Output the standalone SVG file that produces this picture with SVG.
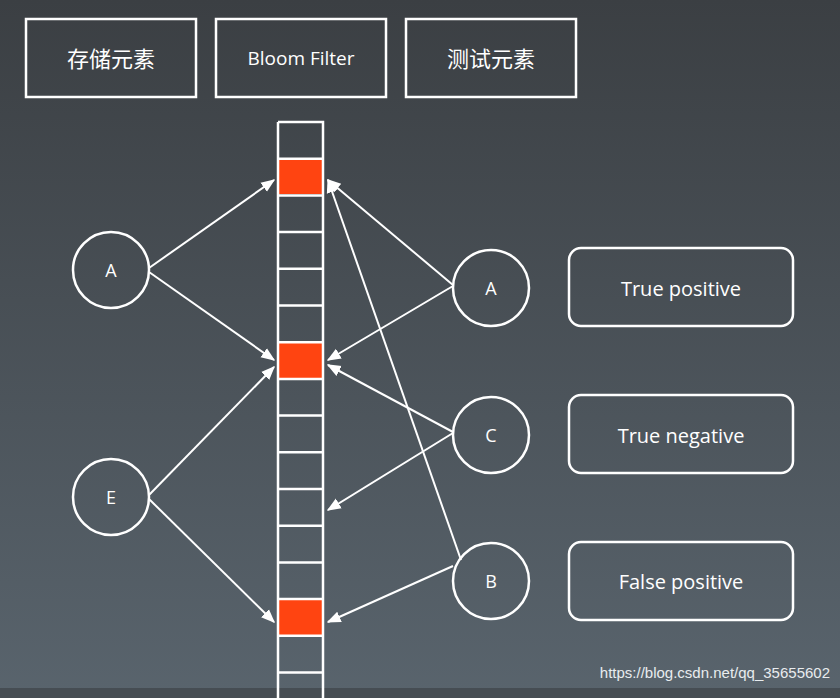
<svg xmlns="http://www.w3.org/2000/svg" width="840" height="698" viewBox="0 0 840 698">
<defs>
<linearGradient id="bg" x1="0" y1="0" x2="0" y2="1"><stop offset="0" stop-color="#3b3f43"/><stop offset="1" stop-color="#59646d"/></linearGradient>
<marker id="ah" viewBox="0 0 10 10" refX="9" refY="5" markerWidth="7" markerHeight="7" orient="auto"><path d="M0,1 L10,5 L0,9 Z" fill="#fff"/></marker>
<style>
.b{fill:none;stroke:#fff;stroke-width:2.5}
.t{fill:#fff;font-family:"Open Sans","Noto Sans CJK SC",sans-serif;text-anchor:middle;dominant-baseline:central}
.c{stroke:#fff;stroke-width:2;marker-end:url(#ah)}
.cell{fill:none;stroke:#fff;stroke-width:2.5}
.red{fill:#ff4411}
</style>
</defs>
<rect width="840" height="698" fill="url(#bg)"/>
<rect y="688" width="840" height="10" fill="#464d53"/>
<g id="h1"><rect class="b" x="26" y="19" width="170" height="78"/><text class="t" x="111" y="58" font-size="22">存储元素</text></g>
<g id="h2"><rect class="b" x="216" y="19" width="170" height="78"/><text class="t" x="301" y="58" font-size="19">Bloom Filter</text></g>
<g id="h3"><rect class="b" x="406" y="19" width="170" height="78"/><text class="t" x="491" y="58" font-size="22">测试元素</text></g>
<g id="filter">
<rect class="red" x="278" y="159" width="45" height="35"/>
<rect class="red" x="278" y="343" width="45" height="35"/>
<rect class="red" x="278" y="600" width="45" height="35"/>
<path class="cell" d="M278,122 H323 V700 M278,122 V700 M278,158.7H323 M278,195.4H323 M278,232.1H323 M278,268.8H323 M278,305.5H323 M278,342.2H323 M278,378.9H323 M278,415.6H323 M278,452.3H323 M278,489H323 M278,525.7H323 M278,562.4H323 M278,599.1H323 M278,635.8H323 M278,672.5H323"/>
</g>
<g id="nA"><circle class="b" cx="111" cy="270" r="38"/><text class="t" x="111" y="270" font-size="18">A</text></g>
<g id="nE"><circle class="b" cx="111" cy="497" r="38"/><text class="t" x="111" y="497" font-size="18">E</text></g>
<g id="tA"><circle class="b" cx="491" cy="288" r="38"/><text class="t" x="491" y="288" font-size="18">A</text></g>
<g id="tC"><circle class="b" cx="491" cy="435" r="38"/><text class="t" x="491" y="435" font-size="18">C</text></g>
<g id="tB"><circle class="b" cx="491" cy="581" r="38"/><text class="t" x="491" y="581" font-size="18">B</text></g>
<g id="r1"><rect class="b" x="569" y="248" width="224" height="78" rx="12"/><text class="t" x="681" y="288" font-size="20">True positive</text></g>
<g id="r2"><rect class="b" x="569" y="395" width="224" height="78" rx="12"/><text class="t" x="681" y="435" font-size="20">True negative</text></g>
<g id="r3"><rect class="b" x="569" y="542" width="224" height="78" rx="12"/><text class="t" x="681" y="581" font-size="20">False positive</text></g>
<g id="connectors">
<line class="c" x1="149" y1="268" x2="274" y2="180"/>
<line class="c" x1="149" y1="272" x2="274" y2="360"/>
<line class="c" x1="149" y1="495" x2="274" y2="367"/>
<line class="c" x1="149" y1="499" x2="274" y2="622"/>
<line class="c" x1="453" y1="285" x2="328" y2="180"/>
<line class="c" x1="453" y1="286" x2="328" y2="360"/>
<line class="c" x1="453" y1="432" x2="328" y2="365"/>
<line class="c" x1="453" y1="433" x2="328" y2="510"/>
<line class="c" x1="461" y1="560" x2="328" y2="180"/>
<line class="c" x1="453" y1="566" x2="328" y2="622"/>
</g>
<text x="830" y="678" fill="#e8ecef" font-family="Liberation Sans,sans-serif" font-size="15" text-anchor="end">https://blog.csdn.net/qq_35655602</text>
</svg>
